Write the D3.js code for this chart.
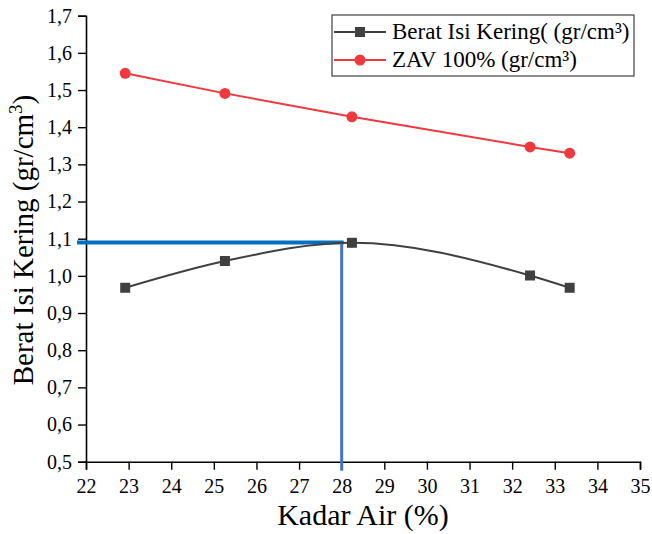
<!DOCTYPE html>
<html>
<head>
<meta charset="utf-8">
<script src="https://cdn.jsdelivr.net/npm/d3@7"></script>
<style>
  body { margin: 0; background: #fff; }
  svg text { font-family: "Liberation Serif", "DejaVu Serif", "Times New Roman", serif; }
</style>
</head>
<body>
<script>
// data
var kadarAir = [22.92, 25.26, 28.24, 32.42, 33.35];
var beratIsiKering = [0.968, 1.040, 1.089, 1.001, 0.968];
var zav100 = [1.545, 1.491, 1.428, 1.347, 1.330];
var seriesNames = ["Berat Isi Kering( (gr/cm³)", "ZAV 100% (gr/cm³)"];
var optimum = { x: 28, y: 1.09 };
var xTicks = d3.range(22, 36, 1);
var yTicks = d3.range(5, 18).map(function(d) { return d / 10; });

var width = 652, height = 534;
var serif = "'Liberation Serif', 'DejaVu Serif', 'Times New Roman', serif";

var svg = d3.select("body")
    .append("svg")
    .attr("width", width)
    .attr("height", height);

var xScale = d3.scaleLinear().domain([22, 35]).range([86, 640]);
var yScale = d3.scaleLinear().domain([0.5, 1.7]).range([461.7, 15.7]);

var fmt = function(d) { return d3.format(".1f")(d).replace(".", ","); };

// minor ticks
var xMinor = d3.range(22.5, 35, 1);
var yMinor = d3.range(5.5, 17, 1).map(function(d) { return d / 10; });

var gx = svg.append("g").attr("transform", "translate(0," + yScale(0.5) + ")");
gx.call(d3.axisBottom(xScale).tickValues(xMinor).tickSize(5).tickFormat(""));
gx.call(d3.axisBottom(xScale).tickValues(xTicks).tickSize(8).tickPadding(9).tickFormat(d3.format("d")));

var gy = svg.append("g").attr("transform", "translate(" + xScale(22) + ",0)");
gy.call(d3.axisLeft(yScale).tickValues(yMinor).tickSize(5).tickFormat(""));
gy.call(d3.axisLeft(yScale).tickValues(yTicks).tickSize(8).tickPadding(6).tickFormat(fmt));

gx.attr("font-family", serif).attr("font-size", 20);
gy.attr("font-family", serif).attr("font-size", 20);
svg.selectAll(".domain").attr("stroke", "#000").attr("stroke-width", 1.6);
svg.selectAll(".tick line").attr("stroke", "#000").attr("stroke-width", 1.4);
svg.selectAll(".tick text").attr("fill", "#000");

// axis titles
svg.append("text")
    .attr("x", (xScale(22) + xScale(35)) / 2)
    .attr("y", 525)
    .attr("text-anchor", "middle")
    .attr("font-family", serif)
    .attr("font-size", 30)
    .text("Kadar Air (%)");

var yt = svg.append("text")
    .attr("transform", "translate(33,240) rotate(-90)")
    .attr("text-anchor", "middle")
    .attr("font-family", serif)
    .attr("font-size", 29);
yt.append("tspan").text("Berat Isi Kering (gr/cm");
yt.append("tspan").attr("dy", -11).attr("font-size", 19).text("3");
yt.append("tspan").attr("dy", 11).text(")");

// blue optimum guide lines
svg.append("line")
    .attr("x1", 77).attr("x2", xScale(optimum.x) + 2)
    .attr("y1", yScale(optimum.y)).attr("y2", yScale(optimum.y))
    .attr("stroke", "#0070c0").attr("stroke-width", 4);
svg.append("line")
    .attr("x1", xScale(optimum.x)).attr("x2", xScale(optimum.x))
    .attr("y1", yScale(optimum.y)).attr("y2", yScale(0.5) + 9)
    .attr("stroke", "#4472c4").attr("stroke-width", 3);

// series
var black = kadarAir.map(function(x, i) { return [x, beratIsiKering[i]]; });
var red = kadarAir.map(function(x, i) { return [x, zav100[i]]; });

var smooth = d3.line()
    .x(function(d) { return xScale(d[0]); })
    .y(function(d) { return yScale(d[1]); })
    .curve(d3.curveMonotoneX);
var straight = d3.line()
    .x(function(d) { return xScale(d[0]); })
    .y(function(d) { return yScale(d[1]); });

svg.append("path").attr("d", smooth(black))
    .attr("fill", "none").attr("stroke", "#404040").attr("stroke-width", 2);
svg.selectAll(".sq").data(black).enter().append("rect")
    .attr("x", function(d) { return xScale(d[0]) - 5; })
    .attr("y", function(d) { return yScale(d[1]) - 5; })
    .attr("width", 10).attr("height", 10)
    .attr("fill", "#404040");

svg.append("path").attr("d", straight(red))
    .attr("fill", "none").attr("stroke", "#f0393f").attr("stroke-width", 2);
svg.selectAll(".dot").data(red).enter().append("circle")
    .attr("cx", function(d) { return xScale(d[0]); })
    .attr("cy", function(d) { return yScale(d[1]); })
    .attr("r", 5.5)
    .attr("fill", "#f0393f");

// legend
var lg = svg.append("g");
lg.append("rect")
    .attr("x", 332).attr("y", 15).attr("width", 302).attr("height", 61)
    .attr("fill", "#fff").attr("stroke", "#404040").attr("stroke-width", 1.2);
var legendRows = [
    { name: seriesNames[0], color: "#404040", shape: "square", y: 32 },
    { name: seriesNames[1], color: "#f0393f", shape: "circle", y: 60 }
];
legendRows.forEach(function(r) {
    lg.append("line").attr("x1", 334).attr("x2", 386)
        .attr("y1", r.y).attr("y2", r.y)
        .attr("stroke", r.color).attr("stroke-width", 2);
    if (r.shape == "square") {
        lg.append("rect").attr("x", 355).attr("y", r.y - 5)
            .attr("width", 10).attr("height", 10).attr("fill", r.color);
    } else {
        lg.append("circle").attr("cx", 360).attr("cy", r.y).attr("r", 5.5).attr("fill", r.color);
    }
    lg.append("text").attr("x", 392).attr("y", r.y + 7)
        .attr("font-family", serif)
        .attr("font-size", 23)
        .text(r.name);
});
</script>
</body>
</html>
